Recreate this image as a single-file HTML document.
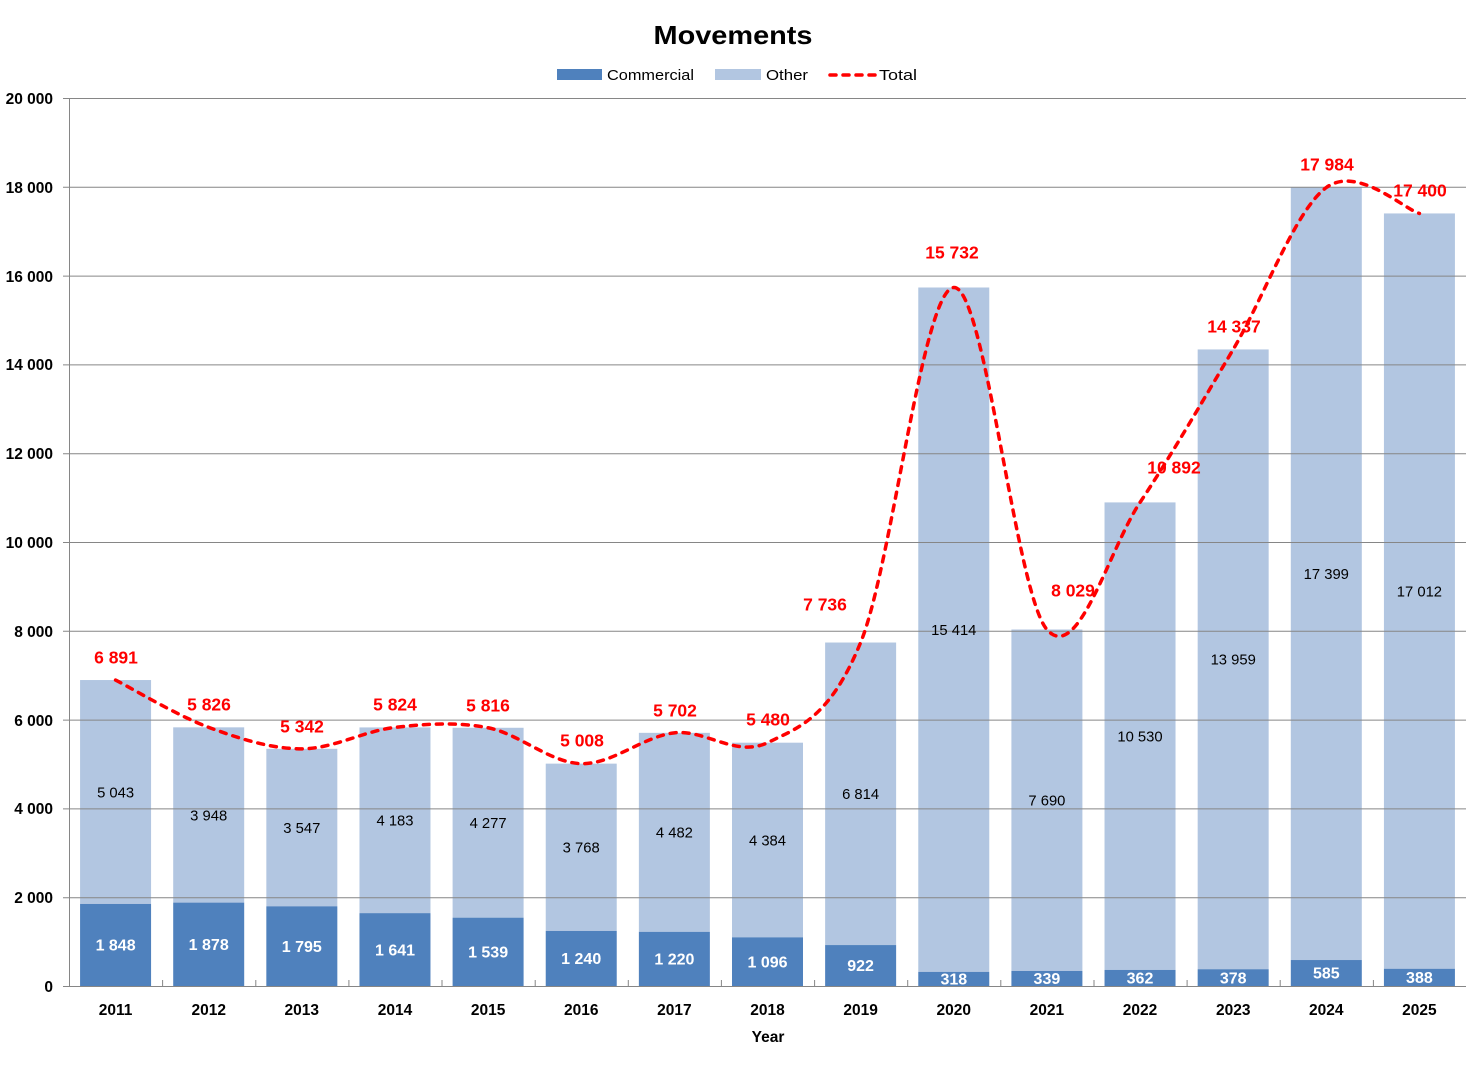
<!DOCTYPE html>
<html><head><meta charset="utf-8"><style>
html,body{margin:0;padding:0;background:#fff;}
svg{display:block;font-family:"Liberation Sans",Arial,sans-serif;}
</style></head><body>
<svg width="1466" height="1071" viewBox="0 0 1466 1071" xmlns="http://www.w3.org/2000/svg">
<rect width="1466" height="1071" fill="#fff"/>
<text x="733" y="44" font-size="26" font-weight="bold" text-anchor="middle" textLength="159" lengthAdjust="spacingAndGlyphs" fill="#000">Movements</text>
<!-- legend -->
<rect x="557" y="69" width="45" height="11" fill="#4F81BD"/>
<text x="607" y="80" font-size="15" textLength="87" lengthAdjust="spacingAndGlyphs" fill="#000">Commercial</text>
<rect x="715" y="69" width="46" height="11" fill="#B2C6E1"/>
<text x="766" y="80" font-size="15" textLength="42" lengthAdjust="spacingAndGlyphs" fill="#000">Other</text>
<line x1="830" y1="75" x2="876" y2="75" stroke="#FF0000" stroke-width="3.5" stroke-dasharray="6 7" stroke-linecap="round"/>
<text x="879" y="80" font-size="15" textLength="38" lengthAdjust="spacingAndGlyphs" fill="#000">Total</text>

<!-- bars: other -->
<g fill="#B2C6E1">
<rect x="80.07" y="680.04" width="71" height="223.91"/>
<rect x="173.2" y="727.33" width="71" height="175.29"/>
<rect x="266.33" y="748.82" width="71" height="157.48"/>
<rect x="359.47" y="727.41" width="71" height="185.73"/>
<rect x="452.6" y="727.77" width="71" height="189.90"/>
<rect x="545.73" y="763.64" width="71" height="167.30"/>
<rect x="638.87" y="732.83" width="71" height="199.00"/>
<rect x="732.0" y="742.69" width="71" height="194.65"/>
<rect x="825.13" y="642.52" width="71" height="302.54"/>
<rect x="918.27" y="287.50" width="71" height="684.38"/>
<rect x="1011.4" y="629.51" width="71" height="341.44"/>
<rect x="1104.53" y="502.40" width="71" height="467.53"/>
<rect x="1197.67" y="349.44" width="71" height="619.78"/>
<rect x="1290.8" y="187.51" width="71" height="772.52"/>
<rect x="1383.93" y="213.44" width="71" height="755.33"/>
</g>
<!-- bars: commercial -->
<g fill="#4F81BD">
<rect x="80.07" y="903.95" width="71" height="82.05"/>
<rect x="173.2" y="902.62" width="71" height="83.38"/>
<rect x="266.33" y="906.30" width="71" height="79.70"/>
<rect x="359.47" y="913.14" width="71" height="72.86"/>
<rect x="452.6" y="917.67" width="71" height="68.33"/>
<rect x="545.73" y="930.94" width="71" height="55.06"/>
<rect x="638.87" y="931.83" width="71" height="54.17"/>
<rect x="732.0" y="937.34" width="71" height="48.66"/>
<rect x="825.13" y="945.06" width="71" height="40.94"/>
<rect x="918.27" y="971.88" width="71" height="14.12"/>
<rect x="1011.4" y="970.95" width="71" height="15.05"/>
<rect x="1104.53" y="969.93" width="71" height="16.07"/>
<rect x="1197.67" y="969.22" width="71" height="16.78"/>
<rect x="1290.8" y="960.03" width="71" height="25.97"/>
<rect x="1383.93" y="968.77" width="71" height="17.23"/>
</g>

<!-- gridlines -->
<g stroke="#868686" stroke-width="1">
<line x1="63" y1="98.5" x2="1466" y2="98.5"/>
<line x1="63" y1="187.3" x2="1466" y2="187.3"/>
<line x1="63" y1="276.1" x2="1466" y2="276.1"/>
<line x1="63" y1="364.9" x2="1466" y2="364.9"/>
<line x1="63" y1="453.7" x2="1466" y2="453.7"/>
<line x1="63" y1="542.5" x2="1466" y2="542.5"/>
<line x1="63" y1="631.3" x2="1466" y2="631.3"/>
<line x1="63" y1="720.1" x2="1466" y2="720.1"/>
<line x1="63" y1="808.9" x2="1466" y2="808.9"/>
<line x1="63" y1="897.7" x2="1466" y2="897.7"/>
<line x1="63" y1="986.5" x2="1466" y2="986.5"/>
<line x1="69.5" y1="98" x2="69.5" y2="987"/>
<line x1="162.6" y1="980" x2="162.6" y2="986"/>
<line x1="255.8" y1="980" x2="255.8" y2="986"/>
<line x1="348.9" y1="980" x2="348.9" y2="986"/>
<line x1="442.0" y1="980" x2="442.0" y2="986"/>
<line x1="535.2" y1="980" x2="535.2" y2="986"/>
<line x1="628.3" y1="980" x2="628.3" y2="986"/>
<line x1="721.4" y1="980" x2="721.4" y2="986"/>
<line x1="814.6" y1="980" x2="814.6" y2="986"/>
<line x1="907.7" y1="980" x2="907.7" y2="986"/>
<line x1="1000.8" y1="980" x2="1000.8" y2="986"/>
<line x1="1094.0" y1="980" x2="1094.0" y2="986"/>
<line x1="1187.1" y1="980" x2="1187.1" y2="986"/>
<line x1="1280.2" y1="980" x2="1280.2" y2="986"/>
<line x1="1373.4" y1="980" x2="1373.4" y2="986"/>
</g>

<!-- y axis labels -->
<g font-size="15.5" font-weight="bold" text-anchor="end" fill="#000">
<text x="53" y="104">20 000</text>
<text x="53" y="193">18 000</text>
<text x="53" y="282">16 000</text>
<text x="53" y="370">14 000</text>
<text x="53" y="459">12 000</text>
<text x="53" y="548">10 000</text>
<text x="53" y="637">8 000</text>
<text x="53" y="726">6 000</text>
<text x="53" y="814">4 000</text>
<text x="53" y="903">2 000</text>
<text x="53" y="992">0</text>
</g>

<!-- x axis labels -->
<g font-size="15.5" font-weight="bold" text-anchor="middle" fill="#000">
<text x="115.6" y="1015">2011</text>
<text x="208.7" y="1015">2012</text>
<text x="301.8" y="1015">2013</text>
<text x="395.0" y="1015">2014</text>
<text x="488.1" y="1015">2015</text>
<text x="581.2" y="1015">2016</text>
<text x="674.4" y="1015">2017</text>
<text x="767.5" y="1015">2018</text>
<text x="860.6" y="1015">2019</text>
<text x="953.8" y="1015">2020</text>
<text x="1046.9" y="1015">2021</text>
<text x="1140.0" y="1015">2022</text>
<text x="1233.2" y="1015">2023</text>
<text x="1326.3" y="1015">2024</text>
<text x="1419.4" y="1015">2025</text>
<text x="768" y="1042">Year</text>
</g>

<!-- other labels -->
<g font-size="14.8" text-anchor="middle" fill="#000">
<text x="115.6" y="797.3">5 043</text>
<text x="208.7" y="820.3">3 948</text>
<text x="301.8" y="832.9">3 547</text>
<text x="395.0" y="825.6">4 183</text>
<text x="488.1" y="828.0">4 277</text>
<text x="581.2" y="852.6">3 768</text>
<text x="674.4" y="837.6">4 482</text>
<text x="767.5" y="845.3">4 384</text>
<text x="860.6" y="799.1">6 814</text>
<text x="953.8" y="635.0">15 414</text>
<text x="1046.9" y="805.5">7 690</text>
<text x="1140.0" y="741.5">10 530</text>
<text x="1233.2" y="664.6">13 959</text>
<text x="1326.3" y="579.1">17 399</text>
<text x="1419.4" y="596.4">17 012</text>
</g>

<!-- commercial labels -->
<g font-size="16" font-weight="bold" text-anchor="middle" fill="#fff">
<text x="115.6" y="950.7">1 848</text>
<text x="208.7" y="950.0">1 878</text>
<text x="301.8" y="951.9">1 795</text>
<text x="395.0" y="955.3">1 641</text>
<text x="488.1" y="957.5">1 539</text>
<text x="581.2" y="964.2">1 240</text>
<text x="674.4" y="964.6">1 220</text>
<text x="767.5" y="967.4">1 096</text>
<text x="860.6" y="971.2">922</text>
<text x="953.8" y="984.6">318</text>
<text x="1046.9" y="984.2">339</text>
<text x="1140.0" y="983.7">362</text>
<text x="1233.2" y="983.3">378</text>
<text x="1326.3" y="978.7">585</text>
<text x="1419.4" y="983.1">388</text>
</g>

<!-- total line -->
<path fill="none" stroke="#FF0000" stroke-width="3.5" stroke-dasharray="6 7" stroke-linecap="round" d="M115.57 680.04 C131.09 687.92 177.66 715.87 208.70 727.33 C239.74 738.79 270.79 748.81 301.83 748.82 C332.87 748.83 363.93 730.92 394.97 727.41 C426.01 723.90 457.06 721.73 488.10 727.77 C519.14 733.81 550.19 762.80 581.23 763.64 C612.27 764.48 643.33 736.32 674.37 732.83 C705.41 729.34 736.46 757.74 767.50 742.69 C798.54 727.64 829.59 718.39 860.63 642.52 C891.67 566.65 922.73 289.67 953.77 287.50 C984.81 285.33 1015.86 593.69 1046.90 629.51 C1077.94 665.33 1108.99 549.08 1140.03 502.40 C1171.07 455.72 1202.13 401.92 1233.17 349.44 C1264.21 296.96 1295.26 210.18 1326.30 187.51 C1357.34 164.84 1403.91 209.12 1419.43 213.44"/>

<!-- total labels -->
<g font-size="17.5" font-weight="bold" text-anchor="middle" fill="#FF0000">
<text x="116" y="663.3">6 891</text>
<text x="209" y="710.3">5 826</text>
<text x="302" y="732.3">5 342</text>
<text x="395" y="710.3">5 824</text>
<text x="488" y="711.3">5 816</text>
<text x="582" y="746.3">5 008</text>
<text x="675" y="716.3">5 702</text>
<text x="768" y="725.3">5 480</text>
<text x="825" y="610.3">7 736</text>
<text x="952" y="258.3">15 732</text>
<text x="1073" y="596.3">8 029</text>
<text x="1174" y="473.3">10 892</text>
<text x="1234" y="332.3">14 337</text>
<text x="1327" y="170.3">17 984</text>
<text x="1420" y="196.3">17 400</text>
</g>
</svg>
</body></html>
